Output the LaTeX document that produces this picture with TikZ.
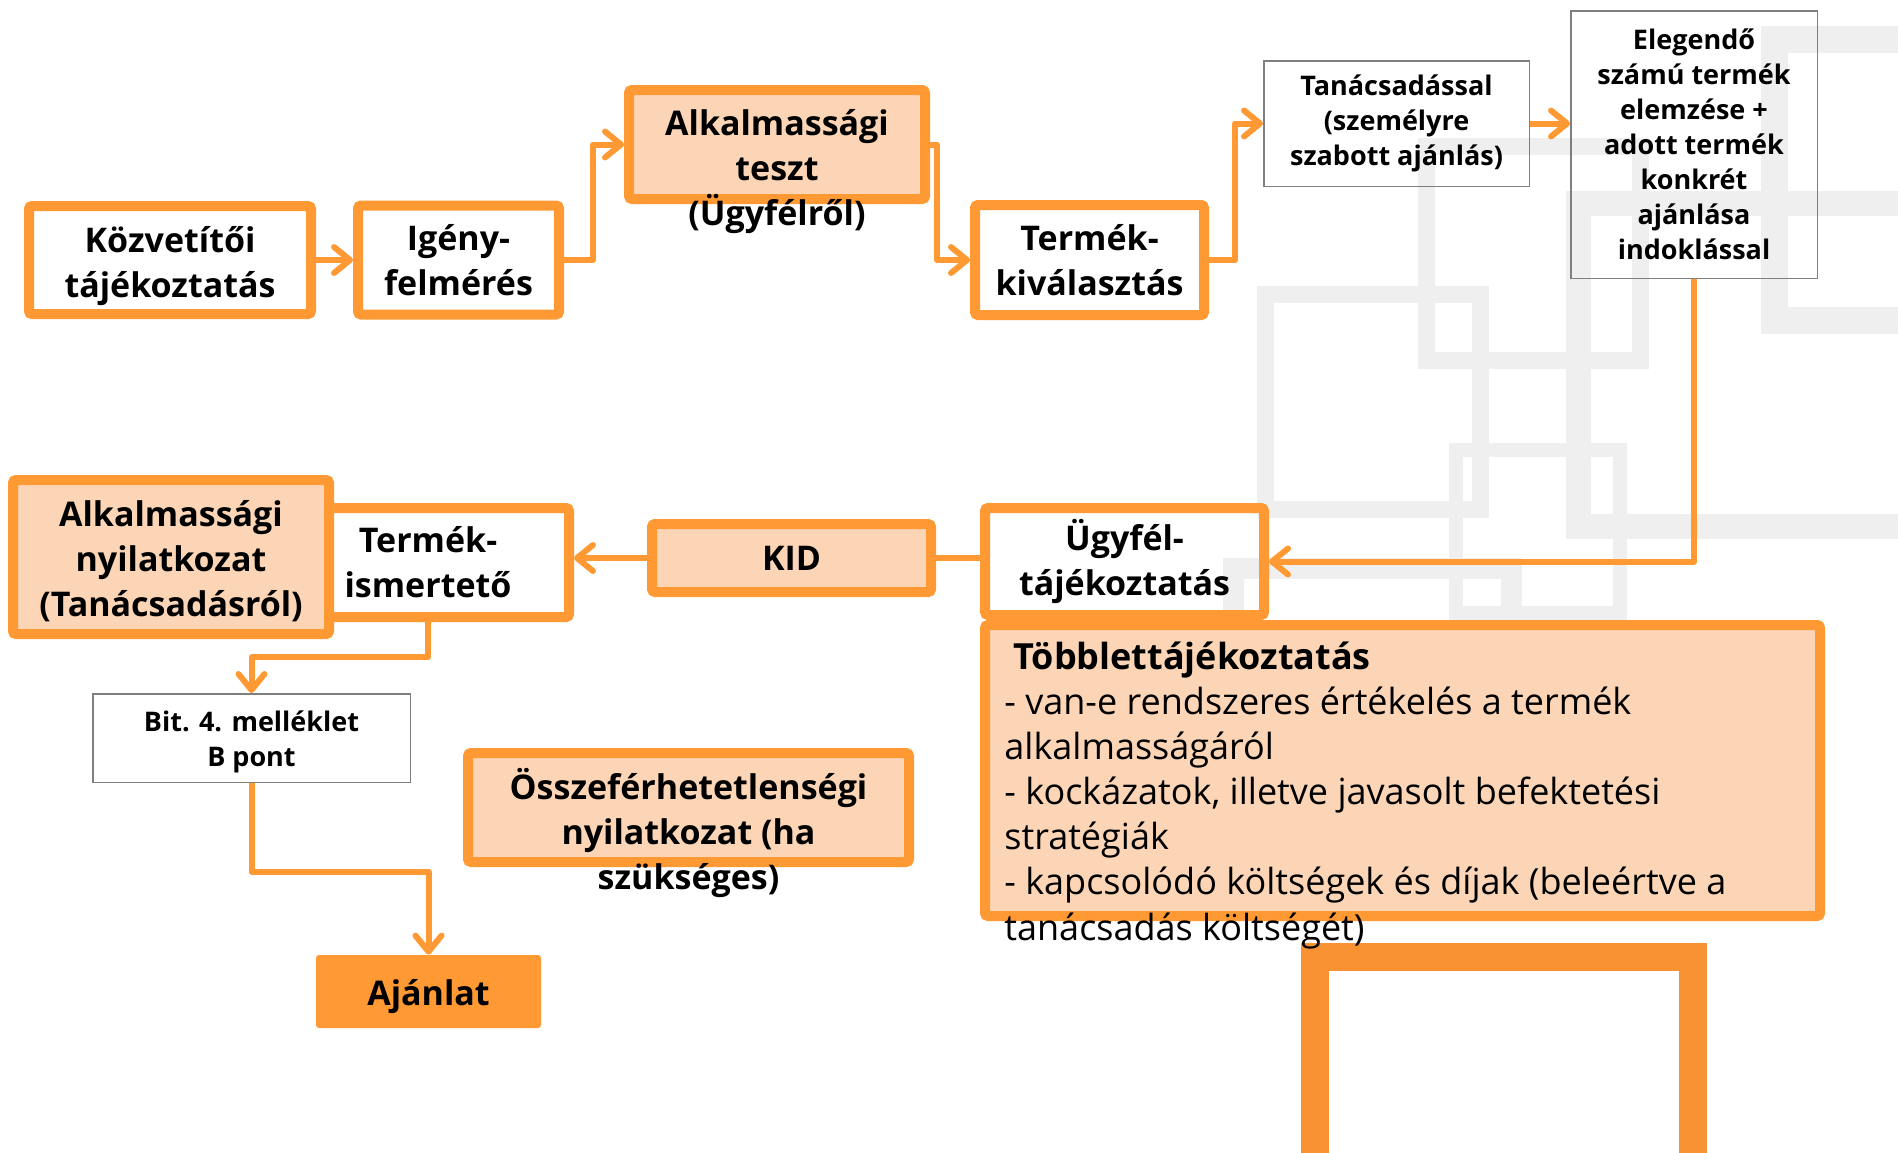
\documentclass[tikz,border=0pt]{standalone}
\usepackage{fontspec}
\setmainfont{Open Sans}
\usetikzlibrary{arrows.meta}
\definecolor{orng}{HTML}{FF9933}
\definecolor{peach}{HTML}{FBD5B5}
\definecolor{frameor}{HTML}{F89233}
\definecolor{bggray}{HTML}{EFEFEF}
\definecolor{thingray}{HTML}{7F7F7F}
\newcommand{\fbig}{\fontsize{17}{22.5}\selectfont\bfseries}
\newcommand{\fsm}{\fontsize{13.5}{17.5}\selectfont\bfseries}
\newcommand{\freg}{\fontsize{18}{22.5}\selectfont}
\begin{document}
\begin{tikzpicture}[x=0.5pt,y=-0.5pt,
  obox/.style={draw=orng, line width=5pt, rounded corners=1.5pt, inner sep=0pt, align=center, font=\fbig},
  pbox/.style={obox, fill=peach},
  tbox/.style={draw=thingray, line width=0.75pt, inner sep=0pt, align=center, font=\fsm},
  txt/.style={align=center, font=\fbig, inner sep=0pt},
  bgr/.style={draw=bggray},
  conn/.style={draw=orng, line width=3pt, line join=round, -{Straight Barb[length=8pt,width=13pt,round]}},
  plain/.style={draw=orng, line width=3pt, line join=round}]
\useasboundingbox (0,0) rectangle (1898,1152);
\clip (0,0) rectangle (1898,1152);
% background decoration
\draw[bgr, line width=8.5pt] (1265,294) rectangle (1480,509);
\draw[bgr, line width=8.5pt] (1426,146) rectangle (1640,360);
\draw[bgr, line width=12.5pt] (1578,203) rectangle (1915,526);
\draw[bgr, line width=13.5pt] (1774,39) rectangle (1925,320);
\draw[bgr, line width=7pt] (1455.5,449.5) rectangle (1620,612.5);
\draw[bgr, line width=10.5pt] (1233,568.5) rectangle (1511,660);
\draw[draw=frameor, line width=14pt] (1314.5,1200) -- (1314.5,957) -- (1692.5,957) -- (1692.5,1200);
% top row
\node[obox, minimum width=141pt, minimum height=54pt] (kozv) at (170,260) {};
\node[txt] (kozvtxt) at (170,266) {Közvetítői\\tájékoztatás};
\node[obox, minimum width=100.5pt, minimum height=54.5pt] (igeny) at (458.5,260) {Igény-\\felmérés};
\node[pbox, minimum width=148pt, minimum height=54.5pt] (alkt) at (777,144.5) {};
\node[txt] (alkttxt) at (777,172) {Alkalmassági\\teszt\\(Ügyfélről)};
\node[obox, minimum width=114.5pt, minimum height=55pt] (termk) at (1089.5,260) {Termék-\\kiválasztás};
\node[tbox, minimum width=132.75pt, minimum height=62.75pt] (tan) at (1396.5,123.5) {Tanácsadással\\(személyre\\szabott ajánlás)};
\node[tbox, minimum width=123.25pt, minimum height=133.75pt] (eleg) at (1694,144.5) {Elegendő\\számú termék\\elemzése +\\adott termék\\konkrét\\ajánlása\\indoklással};
% middle row
\node[obox, minimum width=139.5pt, minimum height=53.5pt] (ugyfel) at (1124.5,561.5) {Ügyfél-\\tájékoztatás};
\node[pbox, minimum width=417.5pt, minimum height=145.5pt] (tobb) at (1402.5,770.5) {};
\node[anchor=north west, align=left, font=\freg, inner sep=0pt] (tobbtxt) at (1004,642) {\hspace{4.5pt}\textbf{Többlettájékoztatás}\\- van-e rendszeres értékelés a termék\\alkalmasságáról\\- kockázatok, illetve javasolt befektetési\\stratégiák\\- kapcsolódó költségek és díjak (beleértve a\\tanácsadás költségét)};
\node[obox, fill=white, minimum width=141pt, minimum height=54.5pt] (termi) at (428,562.5) {Termék-\\ismertető};
\node[pbox, minimum width=158pt, minimum height=77pt] (alkny) at (171,557) {};
\node[txt] (alknytxt) at (171,561) {Alkalmassági\\nyilatkozat\\(Tanácsadásról)};
\node[pbox, minimum width=139.5pt, minimum height=34pt] (kid) at (791.5,558) {KID};
\node[tbox, minimum width=158.75pt, minimum height=44.25pt] (bit) at (251.5,738) {};
\node[txt, font=\fsm] (bittxt) at (251.5,742) {Bit. 4. melléklet\\B pont};
\node[pbox, minimum width=220.5pt, minimum height=54.5pt] (ossz) at (688.5,807.5) {};
\node[txt] (ossztxt) at (688.5,833) {Összeférhetetlenségi\\nyilatkozat (ha\\szükséges)};
\node[fill=orng, rounded corners=1.5pt, inner sep=0pt, font=\fbig, minimum width=112.5pt, minimum height=36.5pt] (ajan) at (428.5,991.5) {\raisebox{-2.5pt}[\height][\depth]{Ajánlat}};
% connectors
\draw[conn] (kozv.east) -- (igeny.west);
\draw[conn] (igeny.east) -- ++(29,0) |- (alkt.west);
\draw[conn] (alkt.east) -- ++(7,0) |- (termk.west);
\draw[conn] (termk.east) -- ++(26,0) |- (tan.west);
\draw[conn] (tan.east) -- (tan.east -| eleg.west);
\draw[conn] (eleg.south) |- (ugyfel.east);
\draw[plain] (ugyfel.west |- kid.east) -- (kid.east);
\draw[conn] (kid.west) -- (kid.west -| termi.east);
\draw[conn] (termi.south) -- ++(0,35) -| (bit.north);
\draw[conn] (bit.south) -- ++(0,89) -| (ajan.north);
\end{tikzpicture}
\end{document}
